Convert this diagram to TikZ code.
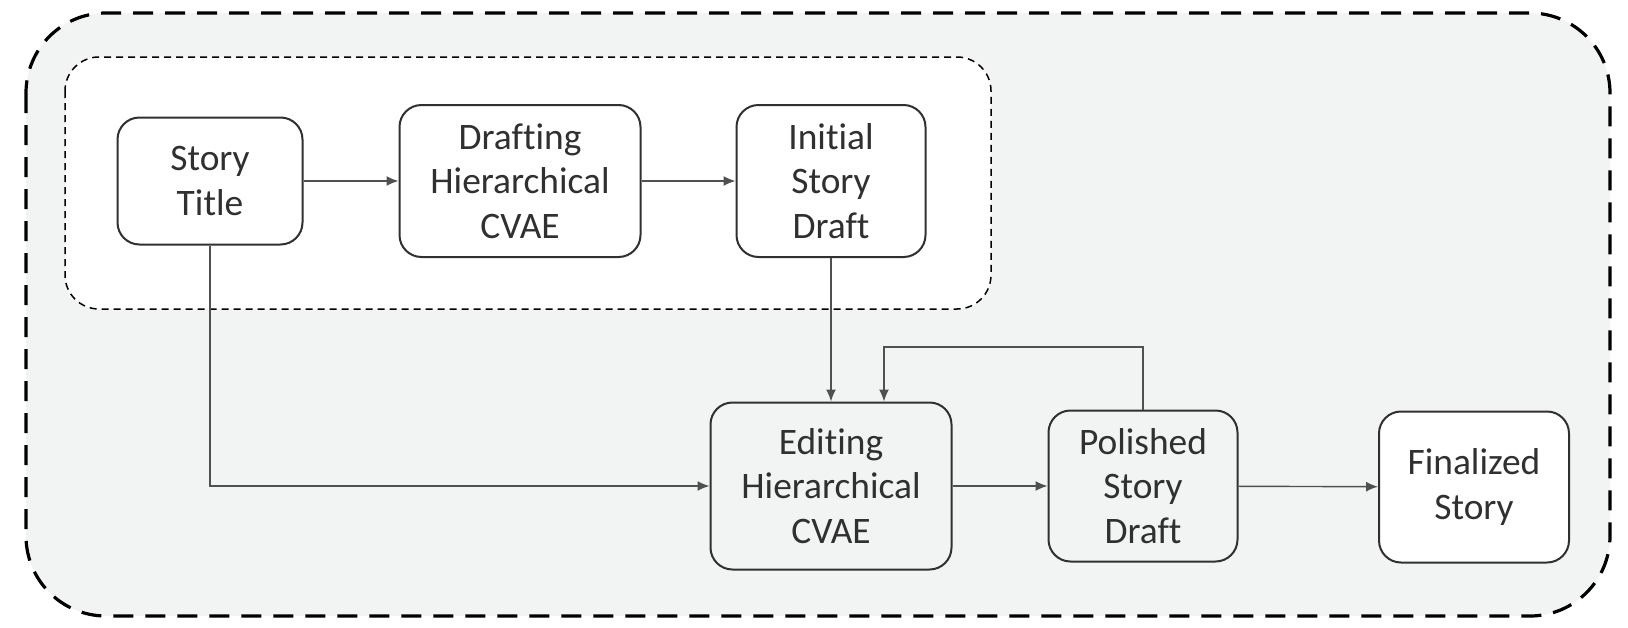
\documentclass[tikz,border=0pt]{standalone}
\usepackage{fontspec}
\setmainfont{Carlito}[RawFeature={-liga;-clig;-calt;-dlig}]
\usetikzlibrary{arrows.meta}
\definecolor{bggray}{HTML}{F2F3F3}
\definecolor{linegray}{HTML}{505050}
\definecolor{txtgray}{HTML}{303030}
\tikzset{
	blk/.style={draw=txtgray,line width=1pt,rounded corners=11pt,align=center,inner sep=0pt,text=txtgray,font=\fontsize{18.7}{22.3}\selectfont},
	arr/.style={draw=linegray,line width=0.7pt,-{Latex[length=6pt,width=5pt]}}
}

\begin{document}
\begin{tikzpicture}[x=0.5pt,y=-0.5pt]
	\useasboundingbox (0,0) rectangle (1628,627);
	\draw[fill=bggray,line width=1.6pt,dash pattern=on 10pt off 6pt,rounded corners=40pt] (26,13) rectangle (1610,616);
	\draw[fill=white,line width=0.75pt,dash pattern=on 3.5pt off 2.5pt,rounded corners=17pt] (65,57) rectangle (991,309);

	\node[blk,fill=white,minimum width=92.5pt,minimum height=63.5pt] (title) at (210,181) {Story\\Title};
	\node[blk,fill=white,minimum width=120.5pt,minimum height=76pt] (draft) at (520,181) {Drafting\\Hierarchical\\CVAE};
	\node[blk,fill=white,minimum width=94.5pt,minimum height=76pt] (initial) at (831,181) {Initial\\Story\\Draft};
	\node[blk,fill=bggray,minimum width=120.5pt,minimum height=83.5pt] (edit) at (831,486) {Editing\\Hierarchical\\CVAE};
	\node[blk,fill=bggray,minimum width=94.5pt,minimum height=75.5pt] (polished) at (1143,486) {Polished\\Story\\Draft};
	\node[blk,fill=white,minimum width=95pt,minimum height=75.5pt] (final) at (1474,487) {Finalized\\Story};

	\coordinate (loop) at (884,347);

	\foreach \a/\b in {title/draft,draft/initial,initial/edit,edit/polished,polished/final} {
		\draw[arr] (\a) -- (\b);
	};
	\draw[arr] (title.south) |- (edit.west);
	\draw[arr] (polished.north) |- (loop) -- (loop |- edit.north);
\end{tikzpicture}
\end{document}
